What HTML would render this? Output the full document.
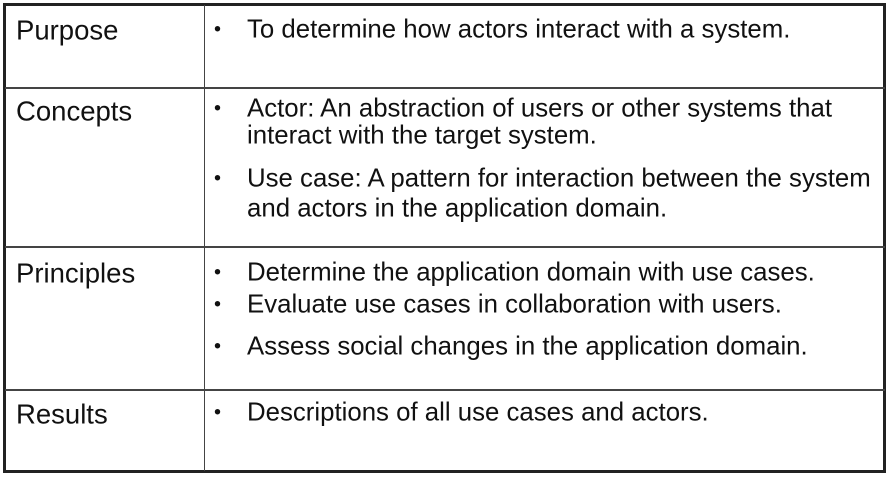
<!DOCTYPE html>
<html><head><style>
body{margin:0;width:890px;height:477px;background:#fff;position:relative;overflow:hidden;font-family:"Liberation Sans",sans-serif;color:#111}
.l{position:absolute;background:#222}
.t{position:absolute;font-size:25.8px;line-height:27px;white-space:nowrap;transform:translateY(-50%)}
.h{font-size:27.5px}
.b{position:absolute;font-size:20px;line-height:27px;transform:translateY(-50%)}
</style></head><body>
<div class="l" style="left:3px;top:3px;width:883px;height:3px"></div>
<div class="l" style="left:3px;top:470px;width:883px;height:3px"></div>
<div class="l" style="left:3px;top:3px;width:3px;height:470px"></div>
<div class="l" style="left:883px;top:3px;width:3px;height:470px"></div>
<div class="l" style="left:204px;top:5px;width:1px;height:466px;background:#444"></div>
<div class="l" style="left:5px;top:87px;width:880px;height:2px;background:#444"></div>
<div class="l" style="left:5px;top:246px;width:880px;height:2px;background:#444"></div>
<div class="l" style="left:5px;top:389px;width:880px;height:2px;background:#444"></div>

<div class="t h" style="left:16px;top:30px">Purpose</div>
<div class="t h" style="left:16px;top:111px">Concepts</div>
<div class="t h" style="left:16px;top:273px">Principles</div>
<div class="t h" style="left:16px;top:414px">Results</div>

<div class="b" style="left:214px;top:30px">•</div>
<div class="t" style="left:247px;top:30px">To determine how actors interact with a system.</div>

<div class="b" style="left:214px;top:109px">•</div>
<div class="t" style="left:247px;top:109px">Actor: An abstraction of users or other systems that</div>
<div class="t" style="left:247px;top:136px">interact with the target system.</div>
<div class="b" style="left:214px;top:179px">•</div>
<div class="t" style="left:247px;top:179px">Use case: A pattern for interaction between the system</div>
<div class="t" style="left:247px;top:209px">and actors in the application domain.</div>

<div class="b" style="left:214px;top:273px">•</div>
<div class="t" style="left:247px;top:273px">Determine the application domain with use cases.</div>
<div class="b" style="left:214px;top:305px">•</div>
<div class="t" style="left:247px;top:305px">Evaluate use cases in collaboration with users.</div>
<div class="b" style="left:214px;top:347px">•</div>
<div class="t" style="left:247px;top:347px">Assess social changes in the application domain.</div>

<div class="b" style="left:214px;top:413px">•</div>
<div class="t" style="left:247px;top:413px">Descriptions of all use cases and actors.</div>
</body></html>
